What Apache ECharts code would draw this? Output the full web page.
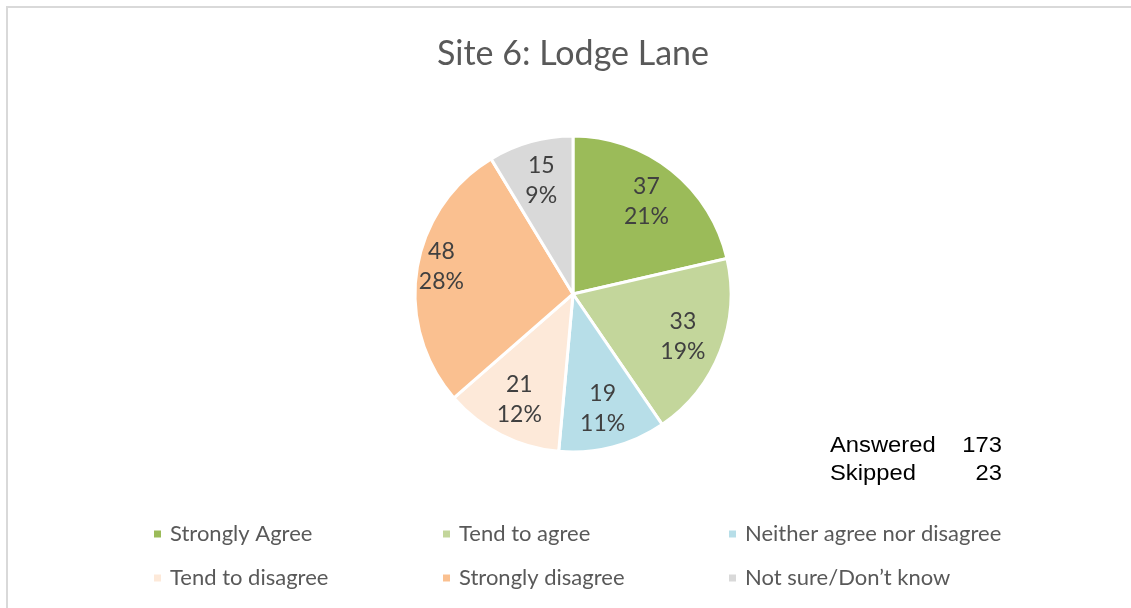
<!DOCTYPE html>
<html>
<head>
<meta charset="utf-8">
<script src="https://cdn.jsdelivr.net/npm/echarts@6/dist/echarts.min.js"></script>
<style>html,body{margin:0;padding:0;background:#fff;overflow:hidden;}#c{width:1131px;height:608px;}</style>
</head>
<body>
<div id="c"></div>
<script>
var categories = ['Strongly Agree', 'Tend to agree', 'Neither agree nor disagree', 'Tend to disagree', 'Strongly disagree', 'Not sure/Don\u2019t know'];
var values = [37, 33, 19, 21, 48, 15];
var colors = ['#9BBB59', '#C3D69B', '#B7DEE8', '#FDE9D9', '#FAC090', '#D9D9D9'];
var statLabels = ['Answered', 'Skipped'];
var statValues = [173, 23];
var titleText = 'Site 6: Lodge Lane';

var FONT = 'Lato';
var chart = echarts.init(document.getElementById('c'), null, {renderer: 'canvas', width: 1131, height: 608});

var pieData = categories.map(function (n, i) {
  return {name: n, value: values[i], itemStyle: {color: colors[i]}};
});

var legendCols = [152, 441, 727];
var legendRows = [522, 566];
var legends = categories.map(function (n, i) {
  return {
    left: legendCols[i % 3],
    top: legendRows[Math.floor(i / 3)],
    padding: 0,
    itemWidth: 9, itemHeight: 9, icon: 'rect',
    selectedMode: false,
    data: [{name: n, itemStyle: {color: colors[i]}}],
    textStyle: {fontFamily: FONT, fontSize: 22, color: '#595959', lineHeight: 24, padding: [0, 0, 0, 3]}
  };
});

function statText(x, y, txt, align) {
  return {type: 'text', silent: true, x: x, y: y, scaleX: 1.08,
    style: {text: txt, fontFamily: 'Liberation Sans', fontSize: 22, fill: '#000', verticalAlign: 'middle', align: align}};
}

var option = {
  animation: false,
  title: {
    text: titleText, left: 568, top: 32, textAlign: 'center',
    textStyle: {fontFamily: FONT, fontSize: 34, fontWeight: 'normal', color: '#595959'}
  },
  legend: legends,
  series: [
    {
      type: 'pie', center: [573, 294], radius: [0, 158], startAngle: 90, clockwise: true,
      silent: true, label: {show: false}, labelLine: {show: false},
      itemStyle: {borderColor: '#ffffff', borderWidth: 3},
      data: pieData
    },
    {
      type: 'pie', center: [573, 294], radius: [72, 158], startAngle: 90, clockwise: true,
      silent: true, percentPrecision: 0,
      itemStyle: {color: 'rgba(0,0,0,0)', borderWidth: 0},
      label: {
        show: true, position: 'inside', formatter: '{c}\n{d}%',
        fontFamily: FONT, fontSize: 23, lineHeight: 30, color: '#404040'
      },
      labelLine: {show: false},
      labelLayout: function (p) { if (p.dataIndex === 4) { return {dx: -15, dy: -9}; } },
      data: categories.map(function (n, i) { return {name: n, value: values[i]}; })
    }
  ],
  graphic: [
    {type: 'line', silent: true, shape: {x1: 6, y1: 7, x2: 1131, y2: 7},
     style: {stroke: '#D9D9D9', lineWidth: 2}},
    {type: 'line', silent: true, shape: {x1: 7, y1: 6, x2: 7, y2: 608},
     style: {stroke: '#D9D9D9', lineWidth: 2}},
    statText(830, 446, statLabels[0], 'left'),
    statText(1002, 446, String(statValues[0]), 'right'),
    statText(830, 474, statLabels[1], 'left'),
    statText(1002, 474, String(statValues[1]), 'right')
  ]
};
chart.setOption(option);
</script>
</body>
</html>
